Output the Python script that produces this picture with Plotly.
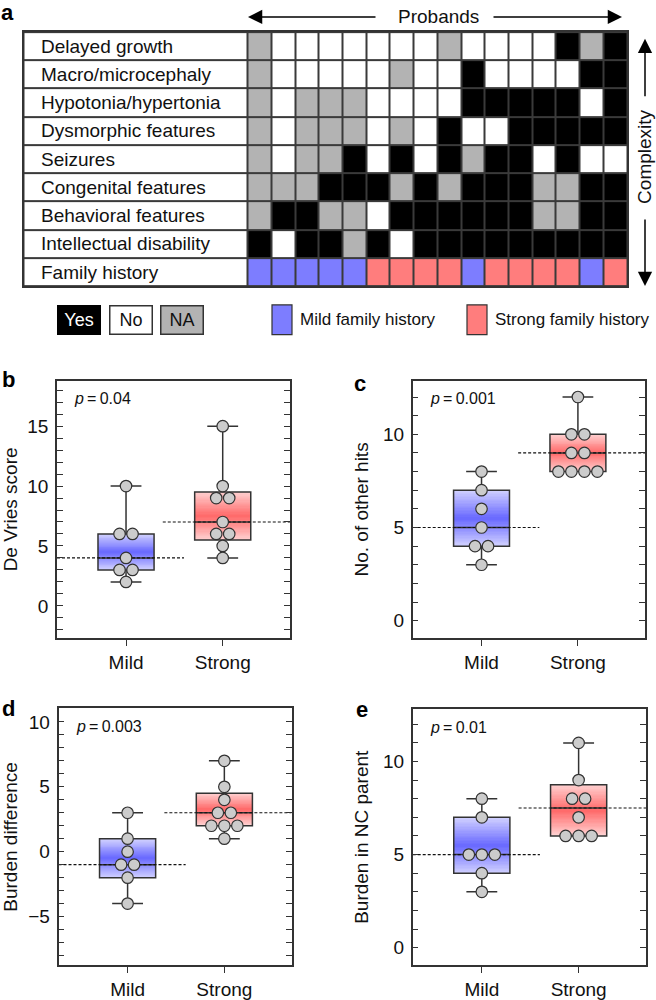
import numpy as np
import plotly.graph_objects as go

# ---------------- data ----------------
feature_labels = ["Delayed growth", "Macro/microcephaly", "Hypotonia/hypertonia",
                  "Dysmorphic features", "Seizures", "Congenital features",
                  "Behavioral features", "Intellectual disability"]
# Y = yes, N = no, A = NA ; one character per proband (16 probands)
feature_rows = ["ANNNNNNNANNNNYAY",
                "ANNNNNANNYNNNNYY",
                "ANAAANNNNYYYYYNY",
                "ANAAANANYNNYYYYY",
                "ANAAYNYNYAYYNYNN",
                "AAAYYYAYAYYYAAYY",
                "AYYAANYYYYYYAAYY",
                "YNYYAYNYYYYYYYYY"]
family_label = "Family history"
family_row = "MMMMMSSSSMSSSSMS"   # M = mild, S = strong

status_legend = ["Yes", "No", "NA"]
family_legend = ["Mild family history", "Strong family history"]

groups = ["Mild", "Strong"]
devries_mild = [10, 6, 6, 4, 3, 3, 2]
devries_strong = [15, 10, 9, 9, 7, 6, 6, 5, 4]
hits_mild = [8, 7, 6, 5, 4, 4, 3]
hits_strong = [12, 10, 10, 9, 9, 8, 8, 8, 8]
burden_diff_mild = [3, 1, 0, -1, -1, -2, -4]
burden_diff_strong = [7, 5, 4, 3, 3, 2, 2, 2, 1]
burden_nc_mild = [8, 7, 5, 5, 5, 4, 3]
burden_nc_strong = [11, 9, 8, 8, 7, 6, 6, 6]

y_titles = ["De Vries score", "No. of other hits", "Burden difference", "Burden in NC parent"]
p_values = ["0.04", "0.001", "0.003", "0.01"]
panel_letters = ["a", "b", "c", "d", "e"]

# ---------------- style ----------------
W, H = 656, 1000
FONT = "Liberation Sans, Arial, Helvetica, sans-serif"
INK = "#111111"
EDGE = "#333333"
GRAY = "#b3b3b3"
BLUE = "#7d7dff"
RED = "#ff7d7d"
BLUE_L, BLUE_D = "#d2d2ff", "#6868ff"
RED_L, RED_D = "#ffd2d2", "#ff6868"


def px(x):
    return x / W


def py(y):
    return 1 - y / H


fig = go.Figure()
annotations = []
shapes = []
C = dict(xanchor="center", yanchor="middle")

# ---------------- panel a: grid ----------------
code = {"N": 0, "Y": 1, "A": 2, "M": 3, "S": 4}
all_labels = feature_labels + [family_label]
all_rows = feature_rows + [family_row]
z = [[0] + [code[c] for c in row] for row in all_rows]
n_prob = len(family_row)
LABEL_W = 9.46  # label column width in cell units
x_edges = [-LABEL_W] + list(range(n_prob + 1))
cs = [[0, "white"], [0.125, "white"], [0.125, "black"], [0.375, "black"],
      [0.375, GRAY], [0.625, GRAY], [0.625, BLUE], [0.875, BLUE],
      [0.875, RED], [1, RED]]
fig.add_trace(go.Heatmap(z=z, x=x_edges, y=list(range(len(all_rows))),
                         colorscale=cs, zmin=0, zmax=4, showscale=False,
                         xgap=2, ygap=2, hoverinfo="skip",
                         xaxis="x", yaxis="y"))
shapes.append(dict(type="rect", xref="x domain", yref="y domain", x0=0, x1=1, y0=0, y1=1,
                   fillcolor="#3a3a3a", line=dict(width=0), layer="below"))
for r, lab in enumerate(all_labels):
    annotations.append(dict(x=-LABEL_W, y=r, xref="x", yref="y", xanchor="left",
                            yanchor="middle", xshift=15, text=lab, showarrow=False,
                            font=dict(size=19, color=INK)))

layout_axes = {}
layout_axes["xaxis"] = dict(domain=[px(23.5), px(627)], range=[-LABEL_W, n_prob],
                            anchor="y", showticklabels=False, ticks="", showgrid=False,
                            zeroline=False, showline=True, linecolor=EDGE, linewidth=1.5,
                            mirror=True)
layout_axes["yaxis"] = dict(domain=[py(288.3), py(32.3)], range=[len(all_rows) - 0.5, -0.5],
                            anchor="x", showticklabels=False, ticks="", showgrid=False,
                            zeroline=False, showline=True, linecolor=EDGE, linewidth=1.5,
                            mirror=True)

# Probands arrow
ARW = dict(showarrow=True, arrowhead=2, arrowsize=1.9, arrowwidth=1.5, arrowcolor="black",
           text="", xref="paper", yref="paper", axref="pixel", ayref="pixel")
annotations.append(dict(ARW, x=px(248), y=py(17), ax=129, ay=0))
annotations.append(dict(ARW, x=px(622), y=py(17), ax=-130, ay=0))
annotations.append(dict(C, x=px(438), y=py(17), xref="paper", yref="paper", text="Probands",
                        showarrow=False, font=dict(size=19, color=INK)))
# Complexity arrow
annotations.append(dict(ARW, x=px(645), y=py(39), ax=0, ay=59))
annotations.append(dict(ARW, x=px(645), y=py(288), ax=0, ay=-68))
annotations.append(dict(C, x=px(645), y=py(158), xref="paper", yref="paper", text="Complexity",
                        textangle=-90, showarrow=False, font=dict(size=19, color=INK)))

# legend row
status_style = [("black", "white", "black"), ("white", INK, EDGE), (GRAY, INK, EDGE)]
status_x = [78.7, 130.5, 181.7]
for lab, (bg, fc, bc), xc in zip(status_legend, status_style, status_x):
    annotations.append(dict(C, x=px(xc), y=py(322), xref="paper", yref="paper", text=lab,
                            showarrow=False, bgcolor=bg, bordercolor=bc, borderwidth=1.5,
                            borderpad=0, width=41, height=27, align="center", valign="middle",
                            font=dict(size=18, color=fc)))
for lab, col, x0 in zip(family_legend, [BLUE, RED], [272, 467]):
    shapes.append(dict(type="rect", xref="paper", yref="paper", x0=px(x0), x1=px(x0 + 20),
                       y0=py(337), y1=py(307), fillcolor=col, line=dict(color=EDGE, width=1.2)))
    annotations.append(dict(x=px(x0 + 26), y=py(322), xref="paper", yref="paper", text=lab,
                            xanchor="left", yanchor="middle", showarrow=False,
                            font=dict(size=17, color=INK)))

# ---------------- panels b-e ----------------
panels = [
    (devries_mild, devries_strong, [-2.7, 18.8], (57, 290), (383.3, 642.7)),
    (hits_mild, hits_strong, [-0.94, 12.88], (412.7, 645), (383.3, 642.7)),
    (burden_diff_mild, burden_diff_strong, [-8.77, 11.05], (58.5, 291.7), (713.3, 972.3)),
    (burden_nc_mild, burden_nc_strong, [-0.96, 12.82], (412.7, 646), (714, 972.3)),
]
XR = [-0.714, 1.696]
BW = 0.58
NSTRIP = 40
DOT_PX = 13

for k, (mild, strong, yr, (fx0, fx1), (fy0, fy1)) in enumerate(panels):
    i = k + 2
    xa, ya = f"x{i}", f"y{i}"
    unit_px = (fx1 - fx0) / (XR[1] - XR[0])
    dx = DOT_PX / unit_px
    for pos, vals, light, dark in [(0, mild, BLUE_L, BLUE_D), (1, strong, RED_L, RED_D)]:
        v = np.array(vals, dtype=float)
        q1, med, q3 = np.percentile(v, [25, 50, 75], method="weibull")
        lo, hi = v.min(), v.max()
        # gradient fill of the box
        edges = np.linspace(q1, q3, NSTRIP + 1)
        t = (np.arange(NSTRIP) + 0.5) / NSTRIP
        zz = (1 - np.abs(2 * t - 1)).reshape(-1, 1)
        fig.add_trace(go.Heatmap(x=[pos - BW / 2, pos + BW / 2], y=edges, z=zz,
                                 colorscale=[[0, light], [1, dark]], zmin=0, zmax=1,
                                 showscale=False, hoverinfo="skip", xaxis=xa, yaxis=ya))
        # dashed median reference
        if pos == 0:
            lx = [XR[0], pos + 0.6]
        else:
            lx = [pos - 0.62, XR[1]]
        fig.add_trace(go.Scatter(x=lx, y=[med, med], mode="lines",
                                 line=dict(color=INK, width=1.2, dash="3px,2px"),
                                 hoverinfo="skip", showlegend=False, xaxis=xa, yaxis=ya))
        fig.add_trace(go.Box(x=[pos], q1=[q1], median=[med], q3=[q3], lowerfence=[lo],
                             upperfence=[hi], orientation="v", width=BW, whiskerwidth=0.55,
                             fillcolor="rgba(0,0,0,0)", line=dict(color=EDGE, width=1.5),
                             boxpoints=False, hoverinfo="skip", showlegend=False,
                             xaxis=xa, yaxis=ya))
        # bee-swarm points
        xs, ys = [], []
        for val in sorted(set(vals), reverse=True):
            cnt = vals.count(val)
            for j in range(cnt):
                xs.append(pos + (j - (cnt - 1) / 2) * dx)
                ys.append(val)
        fig.add_trace(go.Scatter(x=xs, y=ys, mode="markers",
                                 marker=dict(size=11.5, color="#cccccc",
                                             line=dict(color=EDGE, width=1.2)),
                                 hoverinfo="skip", showlegend=False, xaxis=xa, yaxis=ya))

    layout_axes[f"xaxis{i}"] = dict(domain=[px(fx0), px(fx1)], range=XR, anchor=ya,
                                    tickvals=[0, 1], ticktext=groups, ticks="outside",
                                    ticklen=6, tickwidth=1.2, tickcolor=EDGE,
                                    showline=True, linecolor=EDGE, linewidth=1.5, mirror=True,
                                    showgrid=False, zeroline=False,
                                    tickfont=dict(size=19, color=INK))
    layout_axes[f"yaxis{i}"] = dict(domain=[py(fy1), py(fy0)], range=yr, anchor=xa,
                                    tick0=0, dtick=5, ticks="inside", ticklen=6, tickwidth=1.2,
                                    tickcolor=EDGE,
                                    minor=dict(tick0=0, dtick=1, ticks="inside", ticklen=6,
                                               tickwidth=1.2, tickcolor=EDGE),
                                    mirror="ticks", showline=True, linecolor=EDGE,
                                    linewidth=1.5, showgrid=False, zeroline=False,
                                    ticklabelstandoff=3,
                                    tickfont=dict(size=19, color=INK),
                                    title=dict(text=y_titles[k], standoff=9,
                                               font=dict(size=19, color=INK)))
    annotations.append(dict(x=0, y=1, xref=f"{xa} domain", yref=f"{ya} domain",
                            xanchor="left", yanchor="middle", xshift=15, yshift=-18,
                            text=f"<i>p</i>\u2009=\u2009{p_values[k]}", showarrow=False,
                            font=dict(size=16, color=INK)))

# panel letters
letter_pos = [(7, 13), (8, 382), (360, 386), (8, 713), (362, 714)]
for lt, (lx, ly) in zip(panel_letters, letter_pos):
    annotations.append(dict(C, x=px(lx), y=py(ly), xref="paper", yref="paper",
                            text=f"<b>{lt}</b>", showarrow=False, borderpad=0,
                            font=dict(size=22, color="black")))

fig.update_layout(width=W, height=H, margin=dict(l=0, r=0, t=0, b=0),
                  paper_bgcolor="white", plot_bgcolor="white",
                  font=dict(family=FONT, color=INK), showlegend=False,
                  annotations=annotations, shapes=shapes, **layout_axes)

fig.write_html("out.html", config={"displayModeBar": False},
               post_script="document.body.style.margin='0';")
